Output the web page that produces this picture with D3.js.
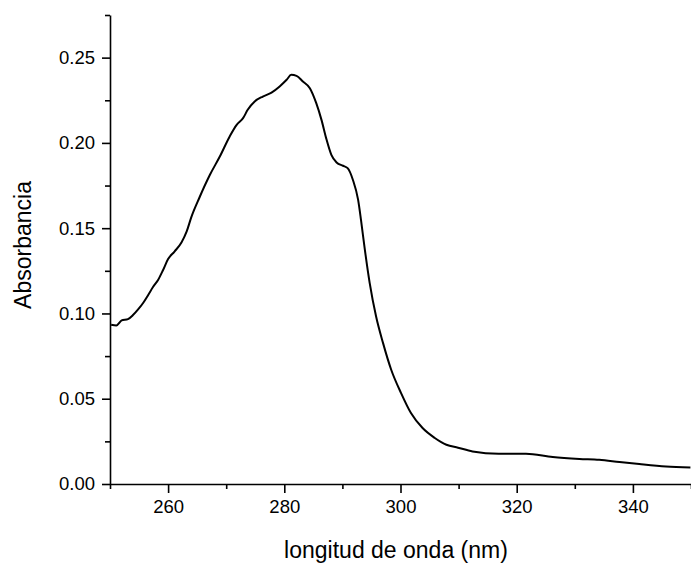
<!DOCTYPE html>
<html lang="es">
<head>
    <meta charset="UTF-8">
    <title>Absorbancia</title>
    <style>
        body { margin: 0; background: #fff; }
        text { font-family: Arial, "Liberation Sans", sans-serif; fill: #000; }
    </style>
</head>
<body>
<script src="https://d3js.org/d3.v7.min.js"></script>
<script>
    // wavelength (nm) and absorbance
    const wavelength = [250.2, 251.1, 252.0, 253.1, 254.0, 254.8, 255.7, 256.6, 257.4, 258.3,
        259.1, 260.0, 261.1, 262.3, 263.2, 264.0, 265.4, 267.2, 268.9, 270.6,
        271.8, 272.9, 273.7, 274.9, 276.3, 277.8, 279.2, 280.4, 281.2, 282.1,
        283.2, 284.4, 285.5, 286.4, 287.2, 288.1, 289.0, 290.1, 290.9, 291.8,
        292.7, 293.2, 293.8, 294.7, 295.8, 297.0, 298.4, 300.1, 301.8, 303.8,
        305.9, 307.9, 309.9, 312.4, 316.9, 321.6, 326.2, 330.8, 334.2, 337.7,
        341.1, 345.7, 349.9];
    const absorbance = [0.0934, 0.0930, 0.0959, 0.0967, 0.0992, 0.1022, 0.1061, 0.1110, 0.1155, 0.1198,
        0.1252, 0.1319, 0.1363, 0.1416, 0.1481, 0.1565, 0.1680, 0.1813, 0.1920, 0.2038,
        0.2106, 0.2145, 0.2194, 0.2243, 0.2272, 0.2295, 0.2331, 0.2370, 0.2399, 0.2393,
        0.2360, 0.2321, 0.2233, 0.2135, 0.2028, 0.1930, 0.1885, 0.1866, 0.1852, 0.1784,
        0.1667, 0.1549, 0.1390, 0.1178, 0.0982, 0.0826, 0.0670, 0.0533, 0.0416, 0.0328,
        0.0270, 0.0230, 0.0213, 0.0191, 0.0178, 0.0178, 0.0158, 0.0147, 0.0142, 0.0129,
        0.0117, 0.0103, 0.0097];

    const xMajor = [260, 280, 300, 320, 340];
    const xMinor = [250, 270, 290, 310, 330, 350];
    const yMajor = [0, 0.05, 0.10, 0.15, 0.20, 0.25];
    const yMinor = [0.025, 0.075, 0.125, 0.175, 0.225, 0.275];

    const data = wavelength.map((w, i) => ({x: w, y: absorbance[i]}));

    const W = 691, H = 564;
    const margin = {top: 15, right: 0, bottom: 80, left: 110};
    const width = W - margin.left - margin.right;
    const height = 484 - margin.top;

    const svg = d3.select("body")
        .append("svg")
        .attr("width", W)
        .attr("height", H);

    const g = svg.append("g")
        .attr("transform", "translate(" + margin.left + "," + margin.top + ")");

    const x = d3.scaleLinear().domain([250, 350]).range([0, width]);
    const y = d3.scaleLinear().domain([0, 0.275]).range([height, 0]);

    // minor ticks first, then major ticks with labels
    g.append("g")
        .attr("transform", "translate(0," + height + ")")
        .call(d3.axisBottom(x).tickValues(xMinor).tickSize(5).tickFormat(""))
        .call(a => a.select(".domain").remove());
    g.append("g")
        .call(d3.axisLeft(y).tickValues(yMinor).tickSize(5).tickFormat(""))
        .call(a => a.select(".domain").remove());

    const xAxis = g.append("g")
        .attr("transform", "translate(0," + height + ")")
        .call(d3.axisBottom(x).tickValues(xMajor).tickSize(9).tickPadding(6).tickSizeOuter(0));
    const yAxis = g.append("g")
        .call(d3.axisLeft(y).tickValues(yMajor).tickSize(8).tickPadding(7).tickSizeOuter(0)
            .tickFormat(d3.format(".2f")));

    g.selectAll(".tick line").attr("stroke", "#000").attr("stroke-width", 1.6);
    g.selectAll(".domain").attr("stroke", "#000").attr("stroke-width", 1.6);
    g.selectAll(".tick text").attr("font-size", "18.5px").attr("fill", "#000");
    xAxis.selectAll(".tick text").attr("dy", "0.78em");

    // spectrum
    g.append("path")
        .datum(data)
        .attr("fill", "none")
        .attr("stroke", "#000")
        .attr("stroke-width", 2)
        .attr("stroke-linejoin", "round")
        .attr("d", d3.line()
            .curve(d3.curveMonotoneX)
            .x(d => x(d.x))
            .y(d => y(d.y)));

    // axis titles
    svg.append("text")
        .attr("x", 396)
        .attr("y", 558)
        .attr("text-anchor", "middle")
        .attr("font-size", "23px")
        .text("longitud de onda (nm)");

    svg.append("text")
        .attr("transform", "translate(31,245) rotate(-90)")
        .attr("text-anchor", "middle")
        .attr("font-size", "23px")
        .text("Absorbancia");
</script>
</body>
</html>
